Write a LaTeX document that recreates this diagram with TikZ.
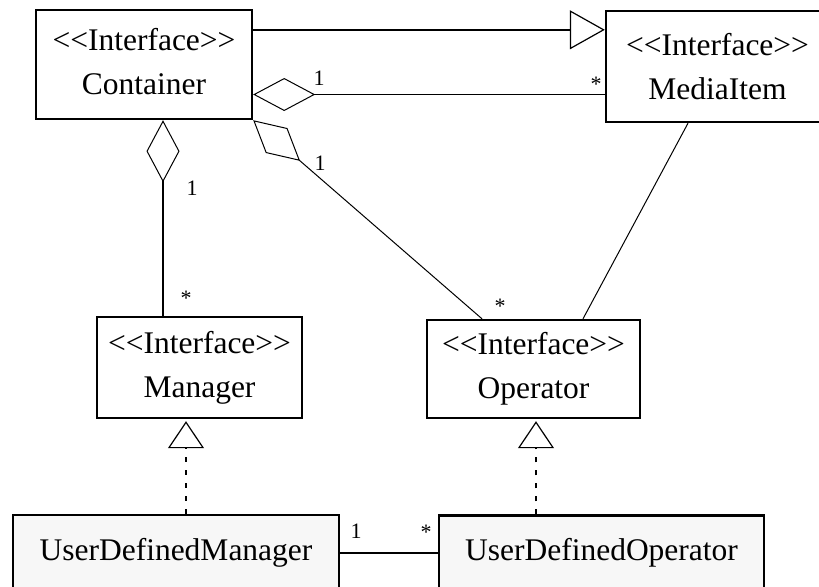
\documentclass[tikz,border=0pt]{standalone}
\usepackage{fontspec}
\setmainfont{Liberation Serif}
\usetikzlibrary{arrows.meta}
\newcommand{\ifcLabel}{<\kern0pt<Interface>\kern0pt>}

\begin{document}
\begin{tikzpicture}
        [x=0.5pt, y=-0.5pt,
        box/.style={draw=black, line width=1.2pt, fill=white, align=center, inner sep=0pt, font=\fontsize{15.75}{22}\selectfont},
        userBox/.style={box, fill=black!3},
        edge/.style={color=black, line width=0.5pt},
        aggEdge/.style={edge, {Diamond[open, length=31pt, width=16.5pt, line width=0.5pt]}-},
        genEdge/.style={edge, line width=1.1pt, -{Triangle[open, length=17.5pt, width=19.5pt, line width=0.6pt]}},
        realEdge/.style={edge, line width=1pt, dash pattern=on 2.5pt off 4pt, shorten >=1pt, -{Triangle[open, length=13.5pt, width=18pt, line width=0.6pt]}},
        mult/.style={inner sep=0pt, anchor=base, font=\fontsize{11}{13}\selectfont}]
%
\clip (0,0) rectangle (819,586);
%%
%% The interfaces
%%
\node[box, minimum width=108pt, minimum height=54.5pt] (container) at (144,64.5) {\ifcLabel\\Container\vphantom{g}};
\node[box, minimum width=111.5pt, minimum height=55.5pt] (mediaItem) at (717.5,66.5) {\ifcLabel\\MediaItem};
\node[box, minimum width=102.5pt, minimum height=50.5pt] (manager) at (199.5,367.5) {\ifcLabel\\Manager};
\node[box, minimum width=106.5pt, minimum height=49pt] (operator) at (533.5,369) {\ifcLabel\\Operator};
%%
%% The user defined classes
%%
\node[userBox, minimum width=163pt, minimum height=38pt] (udm) at (176,553) {UserDefinedManager};
\node[userBox, minimum width=162.5pt, minimum height=37.5pt] (udo) at (601.5,553) {UserDefinedOperator};
%%
%% Free ends of the connectors
%%
\coordinate (genStart) at ([yshift=-10.5pt]container.north east);
\coordinate (aggStart) at ([yshift=-42.85pt]container.north east);
\coordinate (mgrStart) at ([xshift=9.5pt]container.south);
\coordinate (udmTop) at ([xshift=5pt]udm.north);
\coordinate (udoTop) at ([xshift=-32.75pt]udo.north);
%%
%% Connectors
%%
\draw[genEdge] (genStart) -- (genStart -| mediaItem.west);
\draw[aggEdge] (aggStart) -- (aggStart -| mediaItem.west);
\draw[aggEdge, line width=1pt] (mgrStart) -- (mgrStart |- manager.north);
\draw[aggEdge] (container.south east) -- ([xshift=-25.75pt]operator.north);
\draw[edge] ([xshift=-14.75pt]mediaItem.south) -- ([xshift=24.75pt]operator.north);
\draw[realEdge] (udmTop) -- (udmTop |- manager.south);
\draw[realEdge] (udoTop) -- (udoTop |- operator.south);
\draw[edge, line width=1pt] (udm) -- (udo);
%%
%% Multiplicities
%%
\node[mult] (itemOne) at (319,85) {1};
\node[mult] (itemMany) at (596,91) {*};
\node[mult] (mgrOne) at (192,195) {1};
\node[mult] (mgrMany) at (186,305) {*};
\node[mult] (opOne) at (320,170) {1};
\node[mult] (opMany) at (500,313) {*};
\node[mult] (udmOne) at (356,538) {1};
\node[mult] (udoMany) at (426,539) {*};

\end{tikzpicture}
\end{document}
